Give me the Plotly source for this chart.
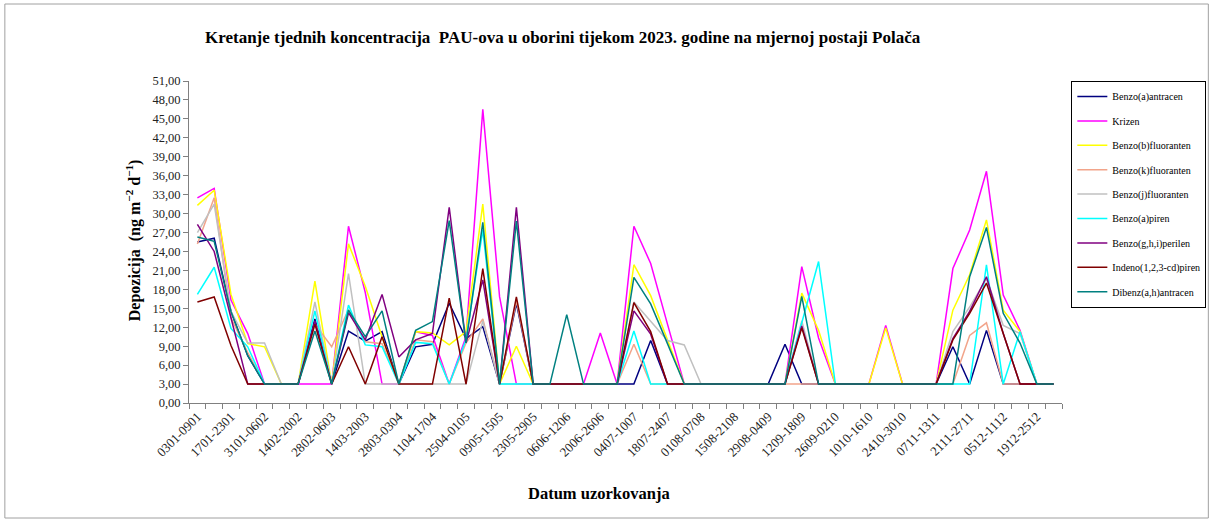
import plotly.graph_objects as go

# Weekly sampling periods (DDMM-DDMM), 2023
weeks = [
    "0301-0901", "1001-1601", "1701-2301", "2401-3001", "3101-0602", "0702-1302",
    "1402-2002", "2102-2702", "2802-0603", "0703-1303", "1403-2003", "2103-2703",
    "2803-0304", "0404-1004", "1104-1704", "1804-2404", "2504-0105", "0205-0805",
    "0905-1505", "1605-2205", "2305-2905", "3005-0506", "0606-1206", "1306-1906",
    "2006-2606", "2706-0307", "0407-1007", "1107-1707", "1807-2407", "2507-3107",
    "0108-0708", "0808-1408", "1508-2108", "2208-2808", "2908-0409", "0509-1109",
    "1209-1809", "1909-2509", "2609-0210", "0310-0910", "1010-1610", "1710-2310",
    "2410-3010", "3110-0611", "0711-1311", "1411-2011", "2111-2711", "2811-0412",
    "0512-1112", "1212-1812", "1912-2512", "2612-0101",
]

# Weekly deposition, ng m-2 d-1
benzo_a_antracen = [
    25.5, 26.1, 14.5, 7.5, 3, 3, 3, 13.3, 3, 11.4, 9.8, 11.3, 3, 8.9, 9.3, 15.8, 10.2, 12.1,
    3, 15.8, 3, 3, 3, 3, 3, 3, 3, 9.9, 3, 3, 3, 3, 3, 3, 3, 9.3, 3, 3, 3, 3, 3, 3, 3, 3, 3,
    8.9, 3, 11.5, 3, 3, 3, 3,
]
krizen = [
    32.5, 34.0, 16.3, 11.0, 3, 3, 3, 3, 3, 28.0, 17.5, 3, 3, 11.3, 10.7, 3, 10.5, 46.5,
    16.8, 3, 3, 3, 3, 3, 11.1, 3, 28.0, 22.1, 12.5, 3, 3, 3, 3, 3, 3, 3, 21.6, 10.3, 3, 3,
    3, 12.3, 3, 3, 3, 21.3, 27.4, 36.7, 17.1, 11.5, 3, 3,
]
benzo_b_fluoranten = [
    31.3, 33.7, 17.2, 9.4, 8.9, 3, 3, 19.3, 3, 25.2, 18.5, 10.5, 3, 11.3, 11.1, 9.2, 11.3,
    31.5, 3, 9.0, 3, 3, 3, 3, 3, 3, 21.9, 17.0, 10.0, 3, 3, 3, 3, 3, 3, 3, 17.4, 11.5, 3, 3,
    3, 11.9, 3, 3, 3, 14.7, 20.3, 29.0, 14.7, 11.3, 3, 3,
]
benzo_k_fluoranten = [
    25.2, 32.5, 13.5, 8.0, 3, 3, 3, 12.5, 8.9, 14.8, 9.7, 9.4, 3, 10.0, 9.7, 3, 9.5, 13.3,
    3, 16.2, 3, 3, 3, 3, 3, 3, 9.3, 3, 3, 3, 3, 3, 3, 3, 3, 3, 3, 3, 3, 3, 3, 3, 3, 3, 3,
    3, 10.7, 12.7, 3, 3, 3, 3,
]
benzo_j_fluoranten = [
    27.0, 31.5, 14.5, 9.5, 9.5, 3, 3, 16.0, 3, 20.5, 3, 3, 3, 3, 3, 3, 3, 13.0, 3, 3, 3, 3,
    3, 3, 3, 3, 16.0, 13.0, 9.9, 9.2, 3, 3, 3, 3, 3, 3, 13.0, 3, 3, 3, 3, 3, 3, 3, 3, 11.3,
    15.2, 19.7, 12.3, 11.0, 3, 3,
]
benzo_a_piren = [
    17.2, 21.5, 11.8, 8.9, 3, 3, 3, 14.6, 3, 15.5, 9.2, 8.9, 3, 9.6, 9.4, 3, 10.0, 27.4, 3,
    3, 3, 3, 3, 3, 3, 3, 11.4, 3, 3, 3, 3, 3, 3, 3, 3, 3, 12.7, 22.4, 3, 3, 3, 3, 3, 3, 3,
    3, 3, 21.9, 3, 11.3, 3, 3,
]
benzo_ghi_perilen = [
    28.3, 24.0, 13.5, 3, 3, 3, 3, 13.0, 3, 14.3, 10.0, 17.2, 7.3, 10.0, 11.0, 31.0, 9.5,
    19.5, 3, 31.0, 3, 3, 3, 3, 3, 3, 14.6, 10.9, 3, 3, 3, 3, 3, 3, 3, 3, 12.2, 3, 3, 3, 3,
    3, 3, 3, 3, 10.2, 14.5, 20.0, 11.0, 3, 3, 3,
]
indeno_pyrene = [
    16.0, 16.8, 9.1, 3, 3, 3, 3, 12.5, 3, 8.9, 3, 10.5, 3, 3, 3, 16.6, 3, 21.3, 3, 16.8, 3,
    3, 3, 3, 3, 3, 15.9, 11.3, 3, 3, 3, 3, 3, 3, 3, 3, 11.9, 3, 3, 3, 3, 3, 3, 3, 3, 10.0,
    14.2, 19.0, 11.0, 3, 3, 3,
]
dibenz_ah_antracen = [
    26.3, 25.6, 14.5, 7.5, 3, 3, 3, 11.4, 3, 14.7, 10.5, 14.6, 3, 11.5, 12.9, 28.9, 9.5,
    28.6, 3, 28.8, 3, 3, 14.0, 3, 3, 3, 19.9, 15.7, 9.4, 3, 3, 3, 3, 3, 3, 3, 16.9, 3, 3, 3,
    3, 3, 3, 3, 3, 3, 20.0, 27.8, 14.2, 9.5, 3, 3,
]

series = [
    ("Benzo(a)antracen", benzo_a_antracen, "#000080"),
    ("Krizen", krizen, "#FF00FF"),
    ("Benzo(b)fluoranten", benzo_b_fluoranten, "#FFFF00"),
    ("Benzo(k)fluoranten", benzo_k_fluoranten, "#F2A48A"),
    ("Benzo(j)fluoranten", benzo_j_fluoranten, "#C0C0C0"),
    ("Benzo(a)piren", benzo_a_piren, "#00FFFF"),
    ("Benzo(g,h,i)perilen", benzo_ghi_perilen, "#800080"),
    ("Indeno(1,2,3-cd)piren", indeno_pyrene, "#800000"),
    ("Dibenz(a,h)antracen", dibenz_ah_antracen, "#008080"),
]

SERIF = "Liberation Serif, Times New Roman, serif"
idx = list(range(len(weeks)))

fig = go.Figure()
for name, vals, color in series:
    fig.add_trace(go.Scatter(
        x=idx, y=vals, name=name, mode="lines", legendgroup=name,
        line=dict(color=color, width=1.5),
    ))

W, H = 1218, 522
L, R, T, B = 189, 152, 81, 119
pw, ph = W - L - R, H - T - B


def px(x):
    return (x - L) / pw


def py(y):
    return (H - B - y) / ph


fig.update_layout(
    width=W, height=H,
    margin=dict(l=L, r=R, t=T, b=B, pad=0),
    paper_bgcolor="white", plot_bgcolor="white",
    separators=",.",
    font=dict(family=SERIF, color="#222222", size=13),
    showlegend=True,
    legend=dict(
        x=px(1211), y=py(81), xanchor="right", yanchor="top",
        bordercolor="#000000", borderwidth=1, bgcolor="white",
        font=dict(family=SERIF, size=10, color="#000000"),
        tracegroupgap=5.4, itemwidth=30,
    ),
    xaxis=dict(
        range=[-0.5, len(weeks) - 0.5],
        tickmode="array", tickvals=idx[::2], ticktext=weeks[::2],
        tickangle=-45, ticks="", showgrid=False, zeroline=False,
        showline=True, linecolor="#808080", linewidth=1,
        tickfont=dict(family=SERIF, size=13, color="#222222"),
        minor=dict(tickmode="linear", tick0=-0.5, dtick=1, ticks="outside",
                   ticklen=5, tickcolor="#808080", showgrid=False),
    ),
    yaxis=dict(
        range=[0, 51], tickmode="linear", tick0=0, dtick=3, tickformat=".2f",
        ticks="outside", ticklen=5, tickcolor="#808080",
        showgrid=False, zeroline=False, showline=True, linecolor="#808080", linewidth=1,
        tickfont=dict(family=SERIF, size=12.5, color="#222222"),
    ),
    annotations=[
        dict(text="<b>Kretanje tjednih koncentracija  PAU-ova u oborini tijekom 2023. godine na mjernoj postaji Polača</b>",
             x=px(565), y=py(38), xref="paper", yref="paper", showarrow=False,
             xanchor="center", yanchor="middle",
             font=dict(family=SERIF, size=17, color="#000000")),
        dict(text="<b>Datum uzorkovanja</b>",
             x=px(601), y=py(493), xref="paper", yref="paper", showarrow=False,
             xanchor="center", yanchor="middle",
             font=dict(family=SERIF, size=16.5, color="#000000")),
        dict(text="<b>Depozicija  (ng m<sup>−2</sup> d<sup>−1</sup>)</b>",
             x=px(133), y=py(240), xref="paper", yref="paper", showarrow=False,
             xanchor="center", yanchor="middle",
             textangle=-90, font=dict(family=SERIF, size=16, color="#000000")),
    ],
    shapes=[
        dict(type="rect", xref="paper", yref="paper",
             x0=px(4), x1=px(1213), y0=py(518), y1=py(4),
             line=dict(color="#A0A0A0", width=1), fillcolor="rgba(0,0,0,0)", layer="below"),
    ],
)

fig.write_html("out.html")
